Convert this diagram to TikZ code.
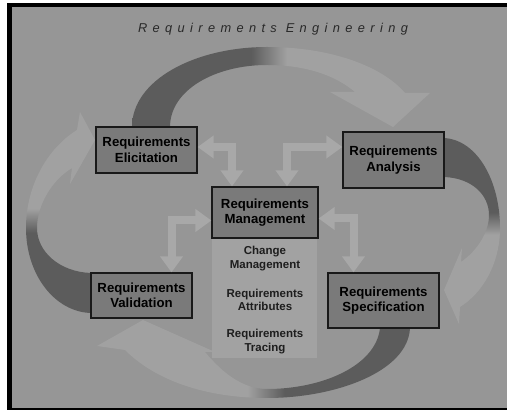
\documentclass[tikz,border=0pt]{standalone}
\usepackage{fontspec}
\setmainfont{Liberation Sans}
\newfontfamily\titlefont[LetterSpace=42]{Liberation Sans}
\usepackage{tikz}
\usetikzlibrary{arrows.meta, positioning}

\definecolor{bggray}{RGB}{150,150,150}
\definecolor{boxfill}{RGB}{122,122,122}
\definecolor{boxline}{RGB}{25,25,25}
\definecolor{panelfill}{RGB}{162,162,162}
\definecolor{paneltext}{RGB}{30,30,30}
\definecolor{linkgray}{RGB}{168,168,168}
\definecolor{arcdark}{RGB}{92,92,92}
\definecolor{arclight}{RGB}{161,161,161}
\definecolor{titlegray}{RGB}{40,40,40}

\pgfdeclarehorizontalshading{arcfade}{100bp}{color(0bp)=(arcdark); color(45bp)=(arcdark); color(51bp)=(arclight); color(100bp)=(arclight)}

\tikzset{
  stagebox/.style={draw=boxline, line width=1.3pt, fill=boxfill, align=center, inner sep=0pt, text=black, font=\fontsize{13.2}{15.5}\selectfont\bfseries},
  panelitem/.style={align=center, inner sep=0pt, text=paneltext, font=\fontsize{11.5}{13.5}\selectfont\bfseries},
  linkarrow/.style={draw=linkgray, line width=8pt, line join=miter, {Triangle[width=22pt,length=16pt]}-{Triangle[width=22pt,length=16pt]}},
}

\begin{document}
\begin{tikzpicture}[x=1pt, y=-1pt]

% frame
\fill[white] (0,0) rectangle (507,411);
\fill[black] (7,3) rectangle (507,410);
\fill[bggray] (12,7) rectangle (507,408);
\useasboundingbox (0,0) rectangle (507,411);

% title
\node[anchor=base, text=titlegray, font=\titlefont\itshape\fontsize{12.8}{14}\selectfont] (title) at (273,33) {Requirements Engineering};

% cycle arrows
\shade[shading=arcfade, shading angle=0]
  (132,127) .. controls (132,80) and (195,47) .. (267,47)
  .. controls (330,47) and (382,66) .. (405,93)
  -- (430,93) -- (393,127) -- (330,92) -- (355,92)
  .. controls (335,75) and (305,65) .. (267,65)
  .. controls (215,65) and (170,90) .. (170,127) -- cycle;

\shade[shading=arcfade, shading angle=-90]
  (444,138) .. controls (478,140) and (500,182) .. (500,228)
  .. controls (500,262) and (484,292) .. (460,307)
  -- (459,324) -- (444,290) -- (462,248) -- (461,262)
  .. controls (478,250) and (489,232) .. (489,215)
  .. controls (489,195) and (472,178) .. (444,177) -- cycle;

\shade[shading=arcfade, shading angle=180]
  (410,328) .. controls (408,372) and (335,398) .. (267,398)
  .. controls (205,398) and (155,380) .. (125,350)
  -- (97,346) -- (143,320) -- (215,352) -- (205,352)
  .. controls (225,376) and (245,389) .. (267,389)
  .. controls (322,389) and (376,366) .. (380,328) -- cycle;

\shade[shading=arcfade, shading angle=90]
  (91,313) .. controls (55,312) and (26,275) .. (26,228)
  .. controls (26,185) and (48,148) .. (77,130)
  -- (80,112) -- (95,140) -- (70,184) -- (72,168)
  .. controls (52,180) and (37,205) .. (37,228)
  .. controls (37,252) and (60,272) .. (91,273) -- cycle;

% nodes
\node[stagebox, minimum width=101pt, minimum height=46pt] (elic) at (146.5,150) {Requirements\\Elicitation};
\node[stagebox, minimum width=101pt, minimum height=56pt] (ana) at (393.5,160) {Requirements\\Analysis};
\node[fill=panelfill, minimum width=105pt, minimum height=120pt, inner sep=0pt] (panel) at (264.5,298) {};
\node[stagebox, minimum width=106pt, minimum height=51pt] (mgmt) at (265,212.5) {Requirements\\Management};
\node[stagebox, minimum width=101pt, minimum height=45pt] (valid) at (141.5,295.5) {Requirements\\Validation};
\node[stagebox, minimum width=111pt, minimum height=55pt] (spec) at (383.5,300.5) {Requirements\\Specification};

\node[panelitem] (change) at (265,258.5) {Change\\Management};
\node[panelitem] (attrib) at (265,300) {Requirements\\Attributes};
\node[panelitem] (trace) at (265,341.5) {Requirements\\Tracing};

% links
\draw[linkarrow] ([yshift=3pt]elic.east) -| ([xshift=-33pt]mgmt.north);
\draw[linkarrow] ([yshift=13pt]ana.west) -| ([xshift=22pt]mgmt.north);
\draw[linkarrow] ([yshift=-8pt]mgmt.west) -| ([xshift=30pt]valid.north);
\draw[linkarrow] ([yshift=-6pt]mgmt.east) -| ([xshift=-30pt]spec.north);

\end{tikzpicture}
\end{document}
